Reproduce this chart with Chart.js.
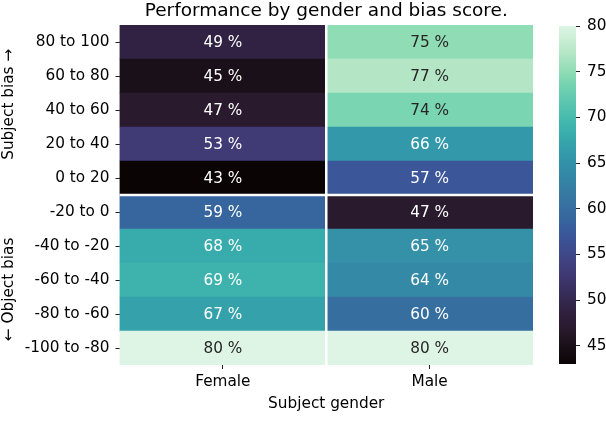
<!DOCTYPE html>
<html>
<head>
<meta charset="utf-8">
<script src="https://cdn.jsdelivr.net/npm/chart.js@4/dist/chart.umd.min.js"></script>
<style>
  html, body { margin: 0; padding: 0; background: #fff; }
  #wrap { position: relative; width: 606px; height: 446px; }
  #heat { position: absolute; left: 0; top: 0; }
  #cbar { position: absolute; left: 545px; top: 0; }
</style>
</head>
<body>
<div id="wrap">
  <canvas id="heat" width="606" height="446"></canvas>
  <canvas id="cbar" width="61" height="446"></canvas>
</div>
<script>
// --- data ---
const biasRows = ['80 to 100', '60 to 80', '40 to 60', '20 to 40', '0 to 20',
                  '-20 to 0', '-40 to -20', '-60 to -40', '-80 to -60', '-100 to -80'];
const genders = ['Female', 'Male'];
const femaleScores = [49, 45, 47, 53, 43, 59, 68, 69, 67, 80];
const maleScores = [75, 77, 74, 66, 57, 47, 65, 64, 60, 80];
const colorbarTicks = [45, 50, 55, 60, 65, 70, 75, 80];
const scoreMin = 43;
const scoreMax = 80;

const FONT = "'DejaVu Sans', sans-serif";
const FS = 15.3;

// mako-like colormap stops (t -> rgb)
const makoStops = [
    [0.000, [11, 4, 5]],
    [0.054, [26, 16, 25]],
    [0.108, [42, 26, 46]],
    [0.143, [46, 30, 59]],
    [0.270, [64, 58, 117]],
    [0.286, [65, 61, 123]],
    [0.378, [59, 86, 153]],
    [0.429, [55, 101, 158]],
    [0.459, [55, 110, 160]],
    [0.568, [52, 138, 166]],
    [0.622, [51, 153, 170]],
    [0.676, [56, 171, 172]],
    [0.714, [64, 183, 173]],
    [0.838, [122, 214, 178]],
    [0.857, [139, 218, 178]],
    [0.919, [180, 230, 197]],
    [1.000, [222, 245, 229]]
];

function makoRgb(value) {
    let t = (value - scoreMin) / (scoreMax - scoreMin);
    t = Math.max(0, Math.min(1, t));
    for (let i = 1; i < makoStops.length; i++) {
        const [t1, c1] = makoStops[i];
        const [t0, c0] = makoStops[i - 1];
        if (t <= t1) {
            const f = (t - t0) / (t1 - t0);
            return c0.map((c, k) => Math.round(c + (c1[k] - c) * f));
        }
    }
    return makoStops[makoStops.length - 1][1];
}

function makoColor(value) {
    const [r, g, b] = makoRgb(value);
    return `rgb(${r},${g},${b})`;
}

function luminance(rgb) {
    const lin = rgb.map(c => {
        c = c / 255;
        return c <= 0.03928 ? c / 12.92 : Math.pow((c + 0.055) / 1.055, 2.4);
    });
    return 0.2126 * lin[0] + 0.7152 * lin[1] + 0.0722 * lin[2];
}

function cellData(scores, col) {
    return scores.map((s, i) => ({x: [col, col + 1], y: biasRows[i], score: s}));
}

// white separators + percent labels in each cell
const cellDecorPlugin = {
    id: 'cellDecor',
    afterDatasetsDraw(chart) {
        const ctx = chart.ctx;
        const xs = chart.scales.x;
        const ys = chart.scales.y;
        const area = chart.chartArea;

        ctx.save();
        ctx.strokeStyle = '#ffffff';
        ctx.lineWidth = 2.5;
        const yMid = ys.getPixelForValue(4.5);
        ctx.beginPath();
        ctx.moveTo(area.left, yMid);
        ctx.lineTo(area.right, yMid);
        ctx.stroke();
        const xMid = xs.getPixelForValue(1);
        ctx.beginPath();
        ctx.moveTo(xMid, area.top);
        ctx.lineTo(xMid, area.bottom);
        ctx.stroke();

        ctx.font = `${FS}px ${FONT}`;
        ctx.textAlign = 'center';
        ctx.textBaseline = 'middle';
        chart.data.datasets.forEach((ds, di) => {
            const meta = chart.getDatasetMeta(di);
            meta.data.forEach((bar, i) => {
                const score = ds.data[i].score;
                ctx.fillStyle = luminance(makoRgb(score)) > 0.408 ? '#262626' : '#ffffff';
                ctx.fillText(score + ' %', (bar.x + bar.base) / 2, bar.y + 1);
            });
        });
        ctx.restore();
    }
};

new Chart(document.getElementById('heat'), {
    type: 'bar',
    data: {
        labels: biasRows,
        datasets: [
            {
                label: genders[0],
                data: cellData(femaleScores, 0),
                backgroundColor: c => makoColor(c.raw.score),
                borderWidth: 0,
                grouped: false,
                barPercentage: 1,
                categoryPercentage: 1
            },
            {
                label: genders[1],
                data: cellData(maleScores, 1),
                backgroundColor: c => makoColor(c.raw.score),
                borderWidth: 0,
                grouped: false,
                barPercentage: 1,
                categoryPercentage: 1
            }
        ]
    },
    options: {
        indexAxis: 'y',
        responsive: false,
        animation: false,
        layout: {padding: {top: 0, right: 73, bottom: 33, left: 0}},
        plugins: {
            legend: {display: false},
            tooltip: {enabled: false},
            title: {
                display: true,
                text: 'Performance by gender and bias score.',
                fullSize: false,
                color: '#000',
                font: {family: FONT, size: 18.5, weight: 'normal'},
                padding: {top: 0.5, bottom: 2.3}
            }
        },
        scales: {
            x: {
                type: 'linear',
                min: 0,
                max: 2,
                afterBuildTicks: s => { s.ticks = genders.map((g, i) => ({value: i + 0.5})); },
                afterFit: s => { s.height = 48; },
                ticks: {
                    autoSkip: false,
                    maxRotation: 0,
                    color: '#000',
                    padding: 4,
                    font: {family: FONT, size: FS},
                    callback: v => genders[Math.floor(v)]
                },
                grid: {drawOnChartArea: false, drawTicks: true, tickLength: 4, tickColor: '#222'},
                border: {display: false},
                title: {
                    display: true,
                    text: 'Subject gender',
                    color: '#000',
                    font: {family: FONT, size: FS},
                    padding: {top: 2, bottom: 0}
                }
            },
            y: {
                type: 'category',
                offset: true,
                afterFit: s => { s.width = 119.5; },
                ticks: {
                    color: '#000',
                    padding: 6,
                    font: {family: FONT, size: FS}
                },
                grid: {offset: false, drawOnChartArea: false, drawTicks: true, tickLength: 4, tickColor: '#222'},
                border: {display: false},
                title: {
                    display: true,
                    text: '\u2190 Object bias' + ' '.repeat(16) + 'Subject bias \u2192',
                    color: '#000',
                    font: {family: FONT, size: FS},
                    padding: {top: 0, bottom: 0}
                }
            }
        }
    },
    plugins: [cellDecorPlugin]
});

// colour bar as its own small chart, one floating bar filled with the colormap
function colorbarFill(c) {
    const ys = c.chart.scales.y;
    const y0 = ys ? ys.getPixelForValue(scoreMin) : NaN;
    const y1 = ys ? ys.getPixelForValue(scoreMax) : NaN;
    if (!isFinite(y0) || !isFinite(y1) || y0 === y1) return makoColor(scoreMin);
    const g = c.chart.ctx.createLinearGradient(0, y0, 0, y1);
    for (let i = 0; i <= 40; i++) {
        const t = i / 40;
        g.addColorStop(t, makoColor(scoreMin + t * (scoreMax - scoreMin)));
    }
    return g;
}

new Chart(document.getElementById('cbar'), {
    type: 'bar',
    data: {
        labels: ['score'],
        datasets: [{
            data: [[scoreMin, scoreMax]],
            backgroundColor: colorbarFill,
            borderWidth: 0,
            barPercentage: 1,
            categoryPercentage: 1
        }]
    },
    options: {
        responsive: false,
        animation: false,
        layout: {padding: {top: 26, right: 0, bottom: 82, left: 14}},
        plugins: {legend: {display: false}, tooltip: {enabled: false}},
        scales: {
            x: {display: false},
            y: {
                type: 'linear',
                position: 'right',
                min: scoreMin,
                max: scoreMax,
                afterBuildTicks: s => { s.ticks = colorbarTicks.map(v => ({value: v})); },
                afterFit: s => { s.width = 30; },
                ticks: {
                    color: '#000',
                    padding: 7,
                    font: {family: FONT, size: FS}
                },
                grid: {drawOnChartArea: false, drawTicks: true, tickLength: 4, tickColor: '#222'},
                border: {display: false}
            }
        }
    }
});
</script>
</body>
</html>
